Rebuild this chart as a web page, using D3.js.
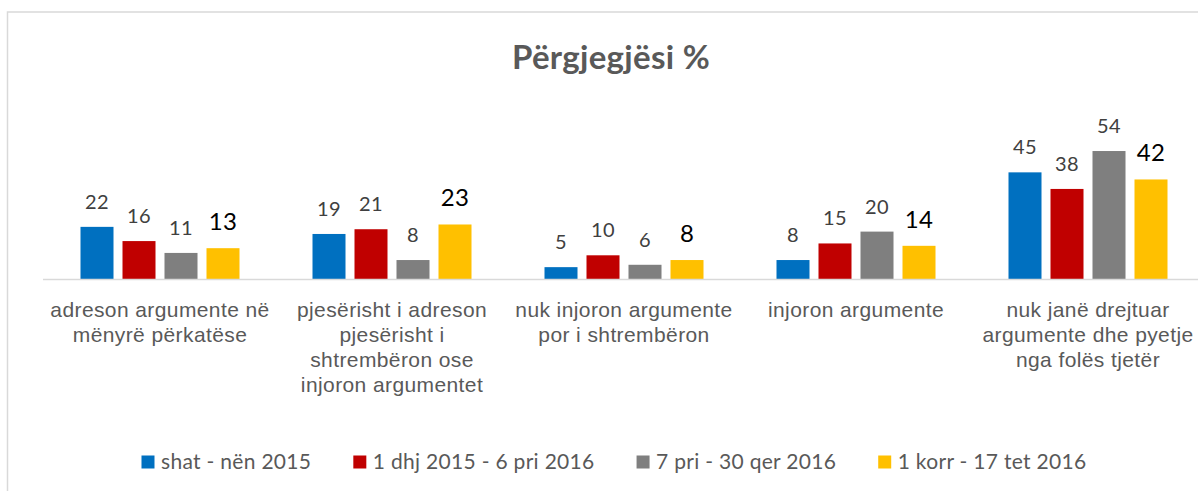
<!DOCTYPE html>
<html>
<head>
<meta charset="utf-8">
<script src="https://cdn.jsdelivr.net/npm/d3@7"></script>
<style>
  html, body { margin: 0; padding: 0; background: #fff; }
  svg { display: block; font-family: Lato, "Open Sans", sans-serif; }
</style>
</head>
<body>
<svg id="chart" width="1198" height="491"></svg>
<script>
const title = "Përgjegjësi %";
const categories = [
  "adreson argumente në\nmënyrë përkatëse",
  "pjesërisht i adreson\npjesërisht i\nshtrembëron ose\ninjoron argumentet",
  "nuk injoron argumente\npor i shtrembëron",
  "injoron argumente",
  "nuk janë drejtuar\nargumente dhe pyetje\nnga folës tjetër"
];
const seriesNames = ["shat - nën 2015", "1 dhj 2015 - 6 pri 2016", "7 pri - 30 qer 2016", "1 korr - 17 tet 2016"];
const seriesColors = ["#0070C0", "#C00000", "#7F7F7F", "#FFC000"];
const s1 = [22, 19, 5, 8, 45];
const s2 = [16, 21, 10, 15, 38];
const s3 = [11, 8, 6, 20, 54];
const s4 = [13, 23, 8, 14, 42];
const seriesValues = [s1, s2, s3, s4];

const svg = d3.select("#chart");

// chart border (top and left visible)
svg.append("path")
  .attr("d", "M7.5,491 L7.5,12 L1198,12")
  .attr("fill", "none").attr("stroke", "#d9d9d9").attr("stroke-width", 1.5);

// title
svg.append("text")
  .attr("x", 611).attr("y", 69)
  .attr("text-anchor", "middle")
  .attr("font-size", 33).attr("font-weight", 700)
  .attr("letter-spacing", 0.3)
  .attr("fill", "#595959")
  .text(title);

const x0 = d3.scaleBand().domain(d3.range(categories.length)).range([44, 44 + 232 * categories.length]).padding(0);
const x1 = d3.scaleBand().domain(d3.range(seriesNames.length)).range([36.5, 195.5]).paddingInner(9 / 42).paddingOuter(0);
const y = d3.scaleLinear().domain([0, 60]).range([279, 279 - 60 * 2.37]);

const groups = svg.append("g").selectAll("g")
  .data(categories.map((c, i) => ({ i, vals: seriesValues.map(s => s[i]) })))
  .join("g")
  .attr("transform", d => `translate(${x0(d.i)},0)`);

groups.selectAll("rect")
  .data(d => d.vals.map((v, k) => ({ v, k })))
  .join("rect")
  .attr("x", d => x1(d.k))
  .attr("width", x1.bandwidth())
  .attr("y", d => y(d.v))
  .attr("height", d => y(0) - y(d.v))
  .attr("fill", d => seriesColors[d.k]);

groups.selectAll("text.val")
  .data(d => d.vals.map((v, k) => ({ v, k })))
  .join("text")
  .attr("class", "val")
  .attr("x", d => x1(d.k) + x1.bandwidth() / 2)
  .attr("y", d => y(d.v) - 18)
  .attr("text-anchor", "middle")
  .attr("font-size", d => d.k === 3 ? 24 : 20)
  .attr("letter-spacing", 0.3)
  .attr("fill", d => d.k === 3 ? "#000000" : "#404040")
  .text(d => d.v);

// category axis
const xAxis = d3.axisBottom(x0).tickSize(0).tickFormat("");
const axisG = svg.append("g").attr("transform", "translate(0,279.5)").call(xAxis);
axisG.select(".domain").remove();
svg.append("line")
  .attr("x1", 43).attr("x2", 1198).attr("y1", 279.5).attr("y2", 279.5)
  .attr("stroke", "#d9d9d9").attr("stroke-width", 1.5);

axisG.selectAll(".tick").each(function(d) {
  const t = d3.select(this).append("text")
    .attr("text-anchor", "middle")
    .attr("font-size", 21)
    .attr("letter-spacing", 0.4)
    .attr("fill", "#595959");
  categories[d].split("\n").forEach((line, j) => {
    t.append("tspan").attr("x", 0).attr("y", 37.5 + j * 25).text(line);
  });
});

// legend
const legend = svg.append("g");
const items = legend.selectAll("g").data(seriesNames).join("g");
items.append("rect").attr("width", 13).attr("height", 13).attr("y", 455.5)
  .attr("fill", (d, i) => seriesColors[i]);
items.append("text").attr("x", 19.5).attr("y", 468.5)
  .attr("font-size", 21).attr("letter-spacing", 0.3)
  .attr("fill", "#595959").text(d => d);
const widths = [];
items.each(function() { widths.push(this.getBBox().width); });
const gap = 42;
const total = d3.sum(widths) + gap * (widths.length - 1);
let cx = 614 - total / 2;
items.attr("transform", (d, i) => {
  const tx = cx; cx += widths[i] + gap; return `translate(${tx},0)`;
});
</script>
</body>
</html>
